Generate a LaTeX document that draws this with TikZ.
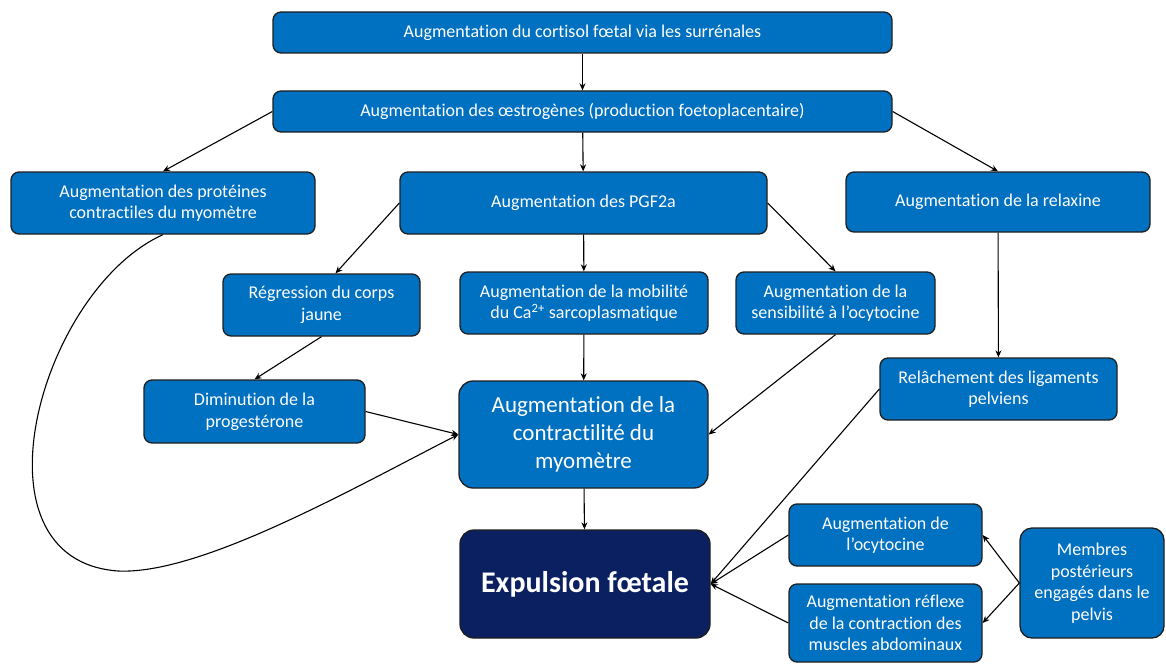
\documentclass[tikz,border=0pt]{standalone}
\usepackage{fontspec}
\setmainfont{Carlito}[Ligatures={NoCommon}]
\usetikzlibrary{arrows.meta,calc}
\definecolor{boxblue}{HTML}{0070C0}
\definecolor{navy}{HTML}{0B2060}
\definecolor{edgec}{HTML}{1F1F1F}
\tikzset{
  box/.style={draw=edgec, line width=1.3pt, fill=boxblue, rounded corners=8pt, text=white,
    align=center, font=\fontsize{18}{21.6}\selectfont, inner sep=2pt},
  arr/.style={draw=black, line width=1.1pt, -{Stealth[length=7pt,width=6pt]}},
}
\begin{document}
\begin{tikzpicture}[x=1pt,y=-1pt]
\useasboundingbox (0,0) rectangle (1166,666);
\node[box, minimum width=619pt, minimum height=41pt] (cort) at (582.5,32.5) {Augmentation du cortisol fœtal via les surrénales};
\node[box, minimum width=619pt, minimum height=41pt] (oes) at (582.5,111.5) {Augmentation des œstrogènes (production foetoplacentaire)};
\node[box, minimum width=304pt, minimum height=62pt] (prot) at (163,203) {Augmentation des protéines\\contractiles du myomètre};
\node[box, minimum width=367pt, minimum height=62pt] (pgf) at (583.5,203) {Augmentation des PGF2a};
\node[box, minimum width=304pt, minimum height=60pt] (relax) at (998,202) {Augmentation de la relaxine};
\node[box, minimum width=197pt, minimum height=62pt] (reg) at (321.5,305) {Régression du corps\\jaune};
\node[box, minimum width=248pt, minimum height=62pt] (mob) at (584,303) {Augmentation de la mobilité\\du Ca\textsuperscript{2+} sarcoplasmatique};
\node[box, minimum width=199pt, minimum height=62pt] (sens) at (835.5,303) {Augmentation de la\\sensibilité à l’ocytocine};
\node[box, minimum width=221pt, minimum height=63pt] (prog) at (254.5,411.5) {Diminution de la\\progestérone};
\node[box, minimum width=249pt, minimum height=107pt, rounded corners=14pt, font=\fontsize{23}{28}\selectfont] (contr) at (583.5,434.5) {Augmentation de la\\contractilité du\\myomètre};
\node[box, minimum width=237pt, minimum height=62pt] (rel) at (998.5,389) {Relâchement des ligaments\\pelviens};
\node[box, minimum width=250pt, minimum height=108pt, rounded corners=14pt, fill=navy, font=\fontsize{30}{36}\selectfont\bfseries] (exp) at (585,584) {Expulsion fœtale};
\node[box, minimum width=193pt, minimum height=62pt] (ocy) at (885.5,535) {Augmentation de\\l’ocytocine};
\node[box, minimum width=193pt, minimum height=78pt] (refl) at (885.5,623) {Augmentation réflexe\\de la contraction des\\muscles abdominaux};
\node[box, minimum width=144pt, minimum height=110pt, rounded corners=12pt] (memb) at (1092,583) {Membres\\postérieurs\\engagés dans le\\pelvis};

\draw[arr] (cort) -- (oes);
\draw[arr] (oes.west) -- (prot.north);
\draw[arr] (oes) -- (pgf);
\draw[arr] (oes.east) -- (relax.north);
\draw[arr] (pgf.west) -- ($(reg.north)+(14,0)$);
\draw[arr] (pgf) -- (mob);
\draw[arr] (pgf.east) -- (sens.north);
\draw[arr] (reg.south) -- (prog.north);
\draw[arr] (mob) -- (contr);
\draw[arr] (sens.south) -- (contr.east);
\draw[arr] (prog.east) -- (contr.west);
\draw[arr] (prot.south) .. controls (40,290) and (-35,560) .. (118,571) .. controls (200,575) and (350,490) .. (contr.west);
\draw[arr] (contr) -- (exp);
\draw[arr] (relax) -- (rel);
\draw[arr] (rel.west) -- (exp.east);
\draw[arr] (ocy.west) -- (exp.east);
\draw[arr] (refl.west) -- (exp.east);
\draw[arr] (memb.west) -- (ocy.east);
\draw[arr] (memb.west) -- (refl.east);
\end{tikzpicture}
\end{document}
